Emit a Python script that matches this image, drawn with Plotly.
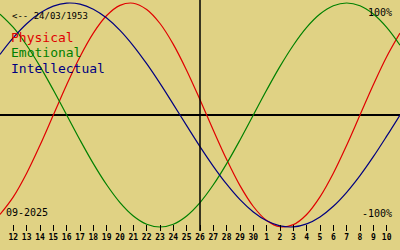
import pandas as pd
import plotly.graph_objects as go

# ---- data ----
START_DATE = "2025-09-11"
N_DAYS = 31
TODAY = "2025-09-26"
BIRTH_LABEL = "<-- 24/03/1953"
MONTH_LABEL = "09-2025"

physical = [-0.888, -0.731, -0.520, -0.270, 0.000, 0.270, 0.520, 0.731, 0.888, 0.979,
            0.998, 0.942, 0.817, 0.631, 0.398, 0.136, -0.136, -0.398, -0.631, -0.817,
            -0.942, -0.998, -0.979, -0.888, -0.731, -0.520, -0.270, 0.000, 0.270, 0.520,
            0.731]
emotional = [0.901, 0.782, 0.623, 0.434, 0.223, 0.000, -0.223, -0.434, -0.623, -0.782,
             -0.901, -0.975, -1.000, -0.975, -0.901, -0.782, -0.623, -0.434, -0.223, 0.000,
             0.223, 0.434, 0.623, 0.782, 0.901, 0.975, 1.000, 0.975, 0.901, 0.782,
             0.623]
intellectual = [0.541, 0.690, 0.815, 0.910, 0.972, 0.999, 0.990, 0.945, 0.866, 0.756,
                0.618, 0.458, 0.282, 0.095, -0.095, -0.282, -0.458, -0.618, -0.756, -0.866,
                -0.945, -0.990, -0.999, -0.972, -0.910, -0.815, -0.690, -0.541, -0.372, -0.189,
                0.000]
tick_labels = ["12", "13", "14", "15", "16", "17", "18", "19", "20", "21", "22", "23",
               "24", "25", "26", "27", "28", "29", "30", "1", "2", "3", "4", "5", "6",
               "7", "8", "9", "10"]
series_names = ["Physical", "Emotional", "Intellectual"]
series_colors = ["#e00000", "#008000", "#000080"]

dates = pd.date_range(START_DATE, periods=N_DAYS, freq="D")
tick_dates = dates[1:-1]

BG = "#e0d284"
W, H = 400, 250
MB = 19
PH = H - MB  # plot area height
CY, AMP = 115, 112

def py(p):
    return 1 - p / PH

fig = go.Figure()
for name, vals, col in zip(series_names, [physical, emotional, intellectual], series_colors):
    fig.add_trace(go.Scatter(x=dates, y=vals, mode="lines", name=name,
                             line=dict(color=col, width=1.2, shape="spline", smoothing=1),
                             showlegend=False, hoverinfo="skip"))

fig.add_shape(type="line", xref="x", yref="paper", x0=TODAY, x1=TODAY, y0=0, y1=1,
              line=dict(color="black", width=1.5))

mono = "DejaVu Sans Mono"
ann = []
ann.append(dict(text=BIRTH_LABEL, x=10 / W, y=py(16), font=dict(size=9, color="black", family=mono),
                xanchor="left"))
for i, (name, col) in enumerate(zip(series_names, series_colors)):
    ann.append(dict(text=name, x=9 / W, y=py(37 + 15.5 * i), font=dict(size=13, color=col, family=mono),
                    xanchor="left"))
ann.append(dict(text="100%", x=394 / W, y=py(12), font=dict(size=10, color="black", family=mono),
                xanchor="right"))
ann.append(dict(text="-100%", x=394 / W, y=py(213), font=dict(size=10, color="black", family=mono),
                xanchor="right"))
ann.append(dict(text=MONTH_LABEL, x=4 / W, y=py(212), font=dict(size=10, color="black", family=mono),
                xanchor="left"))
for a in ann:
    a.update(xref="paper", yref="paper", yanchor="middle", showarrow=False)

fig.update_layout(
    width=W, height=H,
    margin=dict(l=0, r=0, t=0, b=MB, pad=0),
    paper_bgcolor=BG, plot_bgcolor=BG,
    annotations=ann,
    xaxis=dict(range=[dates[0], dates[-1]], tickvals=tick_dates, ticktext=tick_labels,
               ticks="inside", ticklen=6, tickwidth=1, tickcolor="black",
               showgrid=False, zeroline=False, showline=False,
               tickfont=dict(size=8, color="black", family=mono, weight="bold")),
    yaxis=dict(range=[-(PH - CY) / AMP, CY / AMP], showgrid=False, showticklabels=False,
               zeroline=True, zerolinecolor="black", zerolinewidth=1.5, ticks=""),
)
fig.write_html("out.html")
